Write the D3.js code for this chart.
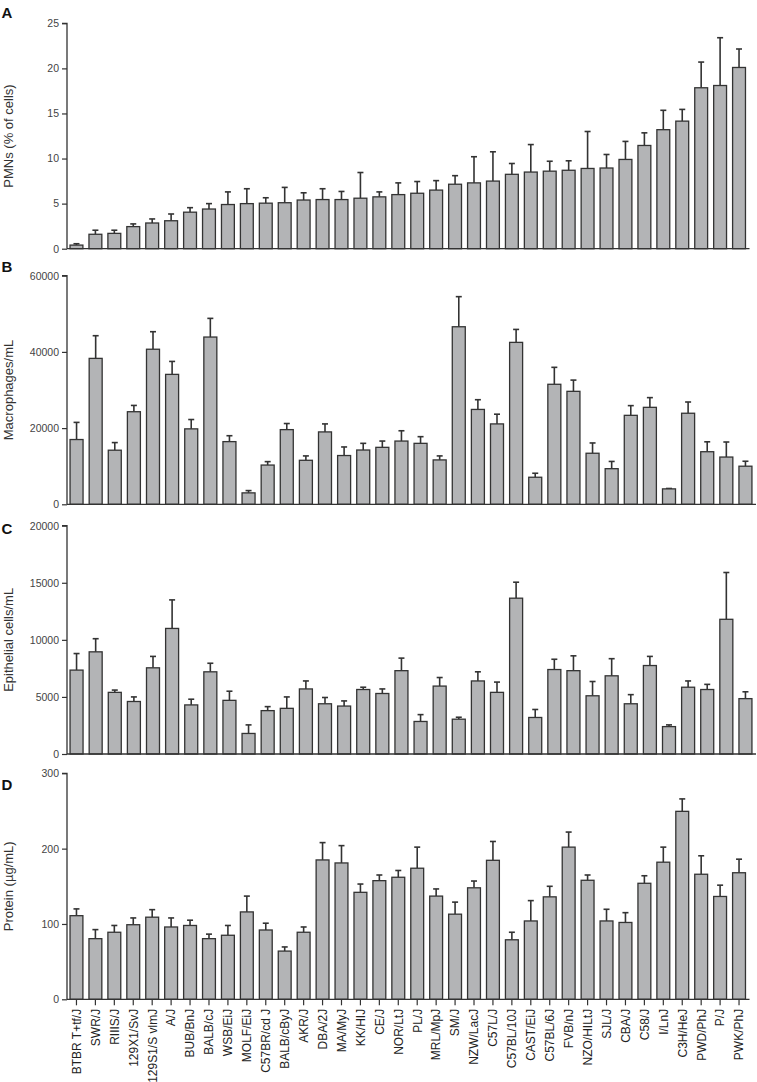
<!DOCTYPE html>
<html>
<head>
<meta charset="utf-8">
<script src="https://cdn.jsdelivr.net/npm/d3@7"></script>
<style>
  body { margin: 0; background: #fff; }
  svg { display: block; font-family: "Liberation Sans", Arial, Helvetica, sans-serif; }
</style>
</head>
<body>
<div id="chart"></div>
<script>
// strains, order used in panels B-D
const strains = ['BTBR T+tf/J', 'SWR/J', 'RIIIS/J', '129X1/SvJ', '129S1/S vlmJ', 'A/J', 'BUB/BnJ', 'BALB/cJ',
  'WSB/EiJ', 'MOLF/EiJ', 'C57BR/cd J', 'BALB/cByJ', 'AKR/J', 'DBA/2J', 'MA/MyJ', 'KK/HIJ', 'CE/J', 'NOR/LtJ',
  'PL/J', 'MRL/MpJ', 'SM/J', 'NZW/LacJ', 'C57L/J', 'C57BL/10J', 'CAST/EiJ', 'C57BL/6J', 'FVB/nJ', 'NZO/HILtJ',
  'SJL/J', 'CBA/J', 'C58/J', 'I/LnJ', 'C3H/HeJ', 'PWD/PhJ', 'P/J', 'PWK/PhJ'];

// panel A is ranked, no strain labels
const pmnRank = ['1', '2', '3', '4', '5', '6', '7', '8', '9', '10', '11', '12', '13', '14', '15', '16', '17', '18',
  '19', '20', '21', '22', '23', '24', '25', '26', '27', '28', '29', '30', '31', '32', '33', '34', '35', '36'];
const pmnMean = [0.4, 1.6, 1.7, 2.45, 2.85, 3.1, 4.05, 4.4, 4.9, 5.0, 5.05, 5.1, 5.4, 5.45, 5.45, 5.6, 5.75, 6.0,
  6.15, 6.5, 7.15, 7.3, 7.5, 8.25, 8.5, 8.6, 8.7, 8.9, 8.95, 9.9, 11.45, 13.2, 14.15, 17.85, 18.1, 20.1];
const pmnErr = [0.15, 0.45, 0.35, 0.3, 0.45, 0.75, 0.5, 0.6, 1.4, 1.65, 0.6, 1.7, 0.8, 1.2, 0.9, 2.85, 0.55, 1.3,
  1.3, 1.05, 0.95, 2.9, 3.25, 1.2, 3.05, 1.1, 1.05, 4.1, 1.5, 2.0, 1.4, 2.15, 1.3, 2.85, 5.3, 2.05];

const macMean = [17000, 38300, 14200, 24300, 40700, 34100, 19800, 43900, 16450, 3000, 10300, 19600, 11550, 19000,
  12800, 14250, 14950, 16600, 16000, 11650, 46600, 24900, 21100, 42500, 7100, 31500, 29650, 13400, 9350, 23350,
  25450, 4050, 23900, 13800, 12400, 10000];
const macErr = [4500, 5950, 2000, 1650, 4600, 3400, 2450, 4900, 1550, 600, 900, 1600, 1150, 2100, 2250, 1750,
  1650, 2700, 1750, 1050, 7900, 2550, 2550, 3400, 1050, 4450, 2950, 2700, 1900, 2550, 2550, 100, 2950, 2600,
  3950, 1300];

const epiMean = [7350, 8950, 5400, 4600, 7550, 11000, 4300, 7200, 4700, 1800, 3800, 4000, 5700, 4400, 4200, 5650,
  5300, 7300, 2850, 5950, 3050, 6400, 5400, 13650, 3200, 7400, 7300, 5100, 6850, 4400, 7750, 2400, 5850, 5650,
  11800, 4850];
const epiErr = [1450, 1150, 200, 400, 1000, 2500, 500, 750, 800, 750, 350, 1000, 700, 550, 450, 200, 400, 1100,
  600, 750, 170, 800, 900, 1400, 700, 900, 1300, 1250, 1500, 800, 800, 150, 550, 450, 4100, 600];

const protMean = [111, 80.5, 89, 99, 109, 96, 98, 80.5, 85, 116, 92, 64, 89, 185, 181, 142, 157.5, 162, 174, 137,
  113, 148, 184.5, 79, 104, 136, 202, 158, 104, 102, 154, 182, 249.5, 166, 136.5, 168];
const protErr = [9, 12, 9, 9, 10, 12, 7, 6, 13, 21, 9, 5.5, 7, 23, 23, 11, 7.5, 9, 28, 9.5, 16, 9, 25, 10, 27, 14,
  20, 7, 15.5, 13, 10, 20, 16.5, 24.5, 15, 18];

const ticksA = [0, 5, 10, 15, 20, 25];
const ticksB = [0, 20000, 40000, 60000];
const ticksC = [0, 5000, 10000, 15000, 20000];
const ticksD = [0, 100, 200, 300];

const width = 757, height = 1082;
const left = 67;

const panels = [
  { letter: 'A', letterY: 17.5, top: 23.3, bottom: 248.7, right: 748.5, ticks: ticksA,
    title: 'PMNs (% of cells)', cats: pmnRank, mean: pmnMean, err: pmnErr },
  { letter: 'B', letterY: 272, top: 275.7, bottom: 504.3, right: 755, ticks: ticksB,
    title: 'Macrophages/mL', cats: strains, mean: macMean, err: macErr },
  { letter: 'C', letterY: 533.5, top: 525.7, bottom: 754, right: 755, ticks: ticksC,
    title: 'Epithelial cells/mL', cats: strains, mean: epiMean, err: epiErr },
  { letter: 'D', letterY: 790, top: 773.3, bottom: 999.3, right: 748.5, ticks: ticksD,
    title: 'Protein (\u00b5g/mL)', cats: strains, mean: protMean, err: protErr, labels: true }
];

const svg = d3.select('#chart').append('svg')
  .attr('width', width)
  .attr('height', height);

const ink = '#333';

panels.forEach(function(p) {
  const rows = p.cats.map(function(c, i) { return { cat: c, mean: p.mean[i], err: p.err[i] }; });

  const x = d3.scaleBand().domain(p.cats).range([left, p.right]).paddingInner(0.32).paddingOuter(0.16);
  const y = d3.scaleLinear().domain([0, d3.max(p.ticks)]).range([p.bottom, p.top]);

  const g = svg.append('g');

  // error bars (upper only) drawn under the bars
  const eb = g.selectAll('.err').data(rows).enter().append('g')
    .attr('stroke', ink).attr('stroke-width', 1.6);
  eb.append('line')
    .attr('x1', function(d) { return x(d.cat) + x.bandwidth() / 2; })
    .attr('x2', function(d) { return x(d.cat) + x.bandwidth() / 2; })
    .attr('y1', function(d) { return y(d.mean); })
    .attr('y2', function(d) { return y(d.mean + d.err); });
  eb.append('line')
    .attr('x1', function(d) { return x(d.cat) + x.bandwidth() / 2 - 3; })
    .attr('x2', function(d) { return x(d.cat) + x.bandwidth() / 2 + 3; })
    .attr('y1', function(d) { return y(d.mean + d.err); })
    .attr('y2', function(d) { return y(d.mean + d.err); });

  g.selectAll('.bar').data(rows).enter().append('rect')
    .attr('x', function(d) { return x(d.cat); })
    .attr('width', x.bandwidth())
    .attr('y', function(d) { return y(d.mean); })
    .attr('height', function(d) { return y(0) - y(d.mean); })
    .attr('fill', '#b3b4b6')
    .attr('stroke', ink)
    .attr('stroke-width', 1.3);

  // y axis
  const yAxis = g.append('g')
    .attr('transform', 'translate(' + left + ',0)')
    .call(d3.axisLeft(y).tickValues(p.ticks).tickFormat(d3.format('d')).tickSize(5).tickPadding(3));
  yAxis.select('.domain').attr('stroke', ink).attr('stroke-width', 1.3).attr('d', 'M-5,' + p.top + 'H0V' + p.bottom);
  yAxis.selectAll('.tick line').attr('stroke', ink).attr('stroke-width', 1.2);
  yAxis.selectAll('.tick text').attr('fill', '#444').style('font-size', '10.5px')
    .style('font-family', '"Liberation Sans", Arial, sans-serif');

  // x axis baseline
  const xAxis = g.append('g')
    .attr('transform', 'translate(0,' + p.bottom + ')')
    .call(d3.axisBottom(x).tickSize(p.labels ? 6 : 0).tickFormat(''));
  xAxis.select('.domain').attr('stroke', ink).attr('stroke-width', 1.3)
    .attr('d', 'M' + left + ',0H' + (p.right + 1));
  xAxis.selectAll('.tick line').attr('stroke', ink).attr('stroke-width', 1.2);

  if (p.labels) {
    g.selectAll('.lab').data(p.cats).enter().append('text')
      .attr('transform', function(d) {
        return 'translate(' + (x(d) + x.bandwidth() / 2) + ',' + (p.bottom + 9.5) + ') rotate(-90)';
      })
      .attr('dy', '0.36em')
      .attr('text-anchor', 'end')
      .attr('fill', '#222')
      .style('font-size', '12px')
      .text(function(d) { return d; });
  }

  // axis title
  g.append('text')
    .attr('transform', 'translate(13,' + ((p.top + p.bottom) / 2) + ') rotate(-90)')
    .attr('text-anchor', 'middle')
    .attr('fill', '#333')
    .style('font-size', '13px')
    .text(p.title);

  // panel letter
  g.append('text')
    .attr('x', 1.5)
    .attr('y', p.letterY)
    .attr('fill', '#111')
    .style('font-size', '15px')
    .style('font-weight', 'bold')
    .text(p.letter);
});
</script>
</body>
</html>
